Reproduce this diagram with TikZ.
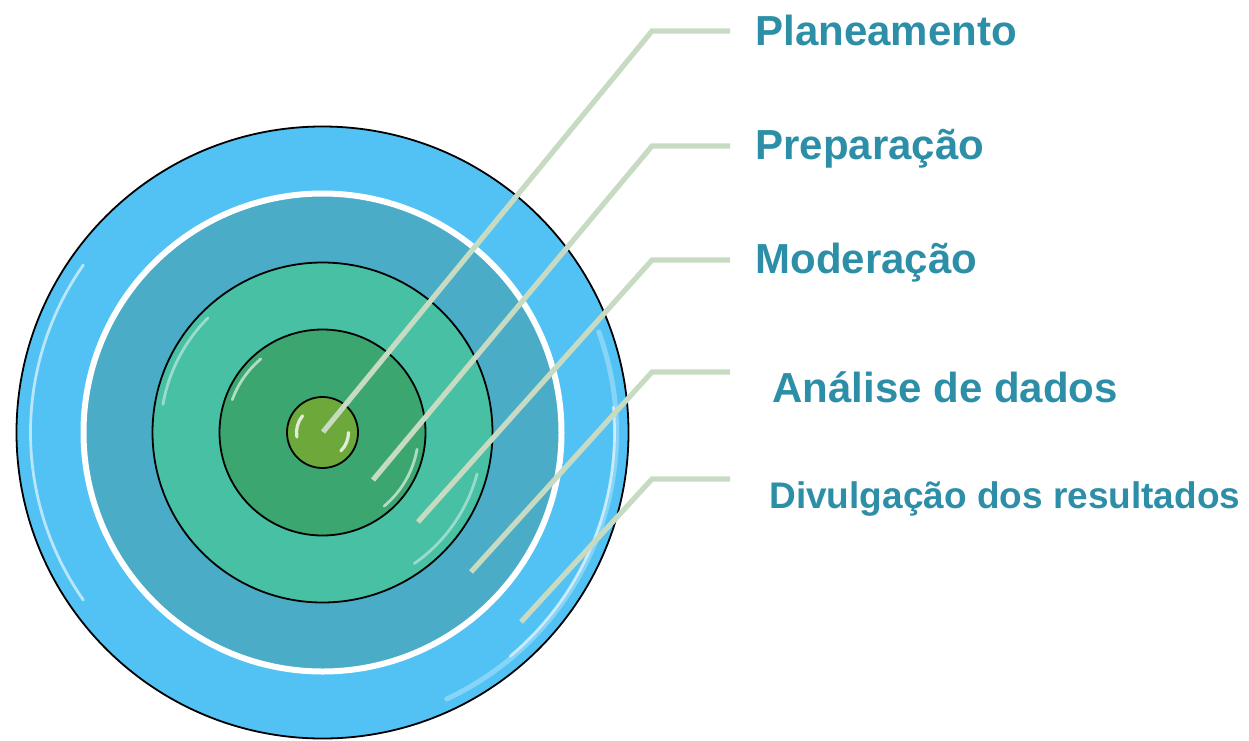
\documentclass[tikz,border=0pt]{standalone}
\usepackage{fontspec}
\setmainfont{Liberation Sans}
\definecolor{outerblue}{HTML}{52C2F5}
\definecolor{ringblue}{HTML}{4AACC7}
\definecolor{ringteal}{HTML}{47C0A3}
\definecolor{ringgreen}{HTML}{3BA66F}
\definecolor{coregreen}{HTML}{6CA83A}
\definecolor{leadercol}{HTML}{C7DAC2}
\definecolor{labelblue}{HTML}{2D8FA7}
\tikzset{
  disc/.style={circle, inner sep=0pt, outer sep=0pt, draw=black, line width=0.9pt},
  leaderline/.style={draw=leadercol, line width=2.6pt},
  lbl/.style={anchor=base west, inner sep=0pt, text=labelblue, font=\bfseries\fontsize{21}{25}\selectfont},
  lblsmall/.style={lbl, font=\bfseries\fontsize{18.5}{22}\selectfont},
  hl/.style={draw=white, line width=1.4pt, opacity=0.6, line cap=round},
  hlsoft/.style={draw=white, line width=2.5pt, opacity=0.3, line cap=round}
}
\begin{document}
\begin{tikzpicture}[x=0.5pt,y=-0.5pt]
\path[use as bounding box] (0,0) rectangle (1249,740);
\coordinate (c) at (322.5,432.5);

% concentric discs
\node[disc, fill=outerblue, minimum size=306pt] (L5) at (c) {};
\node[disc, draw=white, line width=3pt, fill=ringblue, minimum size=239pt] (L4) at (c) {};
\node[disc, fill=ringteal, minimum size=170pt] (L3) at (c) {};
\node[disc, fill=ringgreen, minimum size=103pt] (L2) at (c) {};
\node[disc, fill=coregreen, minimum size=35.5pt] (L1) at (c) {};

% glossy highlights
\draw[hl] (c) ++(145:146pt) arc[start angle=145, end angle=215, radius=146pt];
\draw[hlsoft] (c) ++(20:147pt) arc[start angle=20, end angle=-65, radius=147pt];
\draw[hl] (c) ++(5:146pt) arc[start angle=5, end angle=-50, radius=146pt];
\draw[hl, opacity=0.45] (c) ++(135:81pt) arc[start angle=135, end angle=170, radius=81pt];
\draw[hl, opacity=0.45] (c) ++(-15:80pt) arc[start angle=-15, end angle=-55, radius=80pt];
\draw[hl] (c) ++(130:48pt) arc[start angle=130, end angle=160, radius=48pt];
\draw[hl] (c) ++(-10:48pt) arc[start angle=-10, end angle=-50, radius=48pt];
\draw[hl, line width=1.6pt, opacity=0.8] (c) ++(140:13pt) arc[start angle=140, end angle=190, radius=13pt];
\draw[hl, line width=1.6pt, opacity=0.8] (c) ++(0:13pt) arc[start angle=0, end angle=-45, radius=13pt];

% labels
\node[lbl] (t1) at (755,45) {Planeamento};
\node[lbl] (t2) at (755,159) {Preparação};
\node[lbl] (t3) at (755,273) {Moderação};
\node[lbl] (t4) at (772,402) {Análise de dados};
\node[lblsmall] (t5) at (769,508) {Divulgação dos resultados};

% leader lines
\coordinate (s1) at (323,432); \coordinate (b1) at (652,31);  \coordinate (e1) at (730,31);
\coordinate (s2) at (373,480); \coordinate (b2) at (652,146); \coordinate (e2) at (730,146);
\coordinate (s3) at (418,522); \coordinate (b3) at (652,260); \coordinate (e3) at (730,260);
\coordinate (s4) at (471,572); \coordinate (b4) at (652,372); \coordinate (e4) at (730,372);
\coordinate (s5) at (521,622); \coordinate (b5) at (652,479); \coordinate (e5) at (730,479);
\draw[leaderline] (s1) -- (b1) -- (e1);
\draw[leaderline] (s2) -- (b2) -- (e2);
\draw[leaderline] (s3) -- (b3) -- (e3);
\draw[leaderline] (s4) -- (b4) -- (e4);
\draw[leaderline] (s5) -- (b5) -- (e5);
\end{tikzpicture}
\end{document}
